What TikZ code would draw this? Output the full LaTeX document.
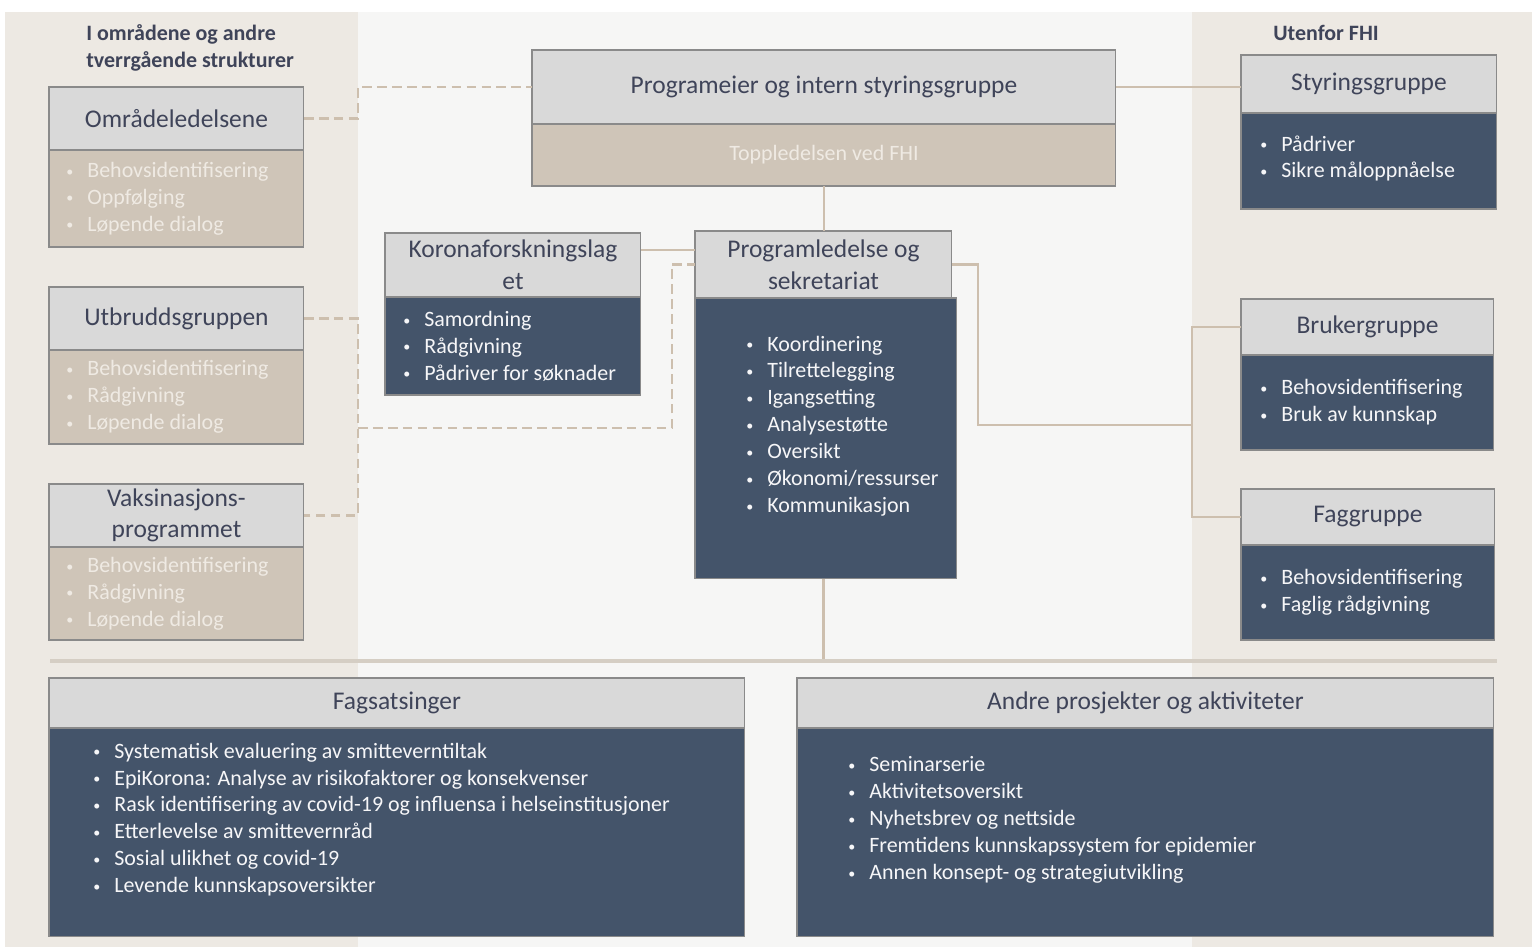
\documentclass[tikz,border=0pt]{standalone}
\usepackage{fontspec}
\setmainfont{Carlito}
\usepackage{xcolor}
\usetikzlibrary{positioning, calc}
\definecolor{navy}{HTML}{44546A}
\definecolor{hdrgray}{HTML}{D9D9D9}
\definecolor{boxtan}{HTML}{CFC5B8}
\definecolor{hdrtext}{HTML}{3F4459}
\definecolor{boxline}{HTML}{8A8A8A}
\definecolor{linkcol}{HTML}{CDBFAE}
\definecolor{bandcol}{HTML}{EDE9E3}
\definecolor{midcol}{HTML}{F6F6F5}
\definecolor{fadetext}{HTML}{EFEAE3}
\definecolor{sepcol}{HTML}{D5CEC4}
\tikzset{
    headbox/.style={
        rectangle,
        draw=boxline,
        line width=0.6pt,
        outer sep=0pt,
        fill=hdrgray,
        text=hdrtext,
        align=center, % for \\ in the titles
        anchor=north west,
        inner sep=2pt,
        font=\fontsize{14.5}{18}\selectfont
    },
    navybody/.style={
        rectangle,
        draw=boxline,
        line width=0.6pt,
        outer sep=0pt,
        fill=navy,
        anchor=north west
    },
    tanbody/.style={
        navybody,
        fill=boxtan
    },
    listtxt/.style={
        inner sep=0pt,
        anchor=west,
        align=left,
        text=white!95!navy,
        font=\fontsize{12.5}{15.3}\selectfont
    },
    fadelist/.style={
        listtxt,
        text=fadetext
    },
    link/.style={
        draw=linkcol,
        line width=1.6pt
    },
    dashlink/.style={
        draw=linkcol,
        line width=1.6pt,
        dash pattern=on 5.5pt off 3pt
    }
}
\newcommand{\punkt}[1]{\makebox[0.42cm][l]{\raisebox{0.12ex}{\fontsize{8}{8}\selectfont\textbullet}}#1}

\begin{document}
\begin{tikzpicture}[
    x=0.02cm, y=-0.02cm,
    grouplbl/.style={font=\bfseries\fontsize{12.5}{15.3}\selectfont, text=hdrtext, align=left, inner sep=0pt, anchor=west},
    sepline/.style={draw=sepcol, line width=2pt}
]
\useasboundingbox (0,0) rectangle (1532,947);
\fill[white] (0,0) rectangle (1532,947);
\fill[midcol] (5,12) rectangle (1532,947);
\fill[bandcol] (5,12) rectangle (358,947);
\fill[bandcol] (1192,12) rectangle (1532,947);

\node[grouplbl] (lbl-omr) at (86,47.5) {I områdene og andre\\tverrgående strukturer};
\node[grouplbl] (lbl-ute) at (1273,33) {Utenfor FHI};

% venstre kolonne
\node[headbox, minimum width=5.1cm, minimum height=1.26cm] (omr) at (49,87) {Områdeledelsene};
\node[tanbody, minimum width=5.1cm, minimum height=1.94cm, below=0pt of omr] (omr-b) {};
\node[fadelist] (omr-l) at ([xshift=0.34cm]omr-b.west) {\punkt{Behovsidentifisering}\\\punkt{Oppfølging}\\\punkt{Løpende dialog}};

\node[headbox, minimum width=5.1cm, minimum height=1.26cm] (utb) at (49,287) {Utbruddsgruppen};
\node[tanbody, minimum width=5.1cm, minimum height=1.88cm, below=0pt of utb] (utb-b) {};
\node[fadelist] (utb-l) at ([xshift=0.34cm]utb-b.west) {\punkt{Behovsidentifisering}\\\punkt{Rådgivning}\\\punkt{Løpende dialog}};

\node[headbox, minimum width=5.1cm, minimum height=1.26cm] (vaks) at (49,484) {Vaksinasjons-\\programmet};
\node[tanbody, minimum width=5.1cm, minimum height=1.86cm, below=0pt of vaks] (vaks-b) {};
\node[fadelist] (vaks-l) at ([xshift=0.34cm]vaks-b.west) {\punkt{Behovsidentifisering}\\\punkt{Rådgivning}\\\punkt{Løpende dialog}};

% midten
\node[headbox, minimum width=11.68cm, minimum height=1.48cm] (peier) at (532,50) {Programeier og intern styringsgruppe};
\node[tanbody, minimum width=11.68cm, minimum height=1.24cm, below=0pt of peier, text=fadetext, font=\fontsize{12.5}{15}\selectfont] (peier-b) {Toppledelsen ved FHI};

\node[headbox, minimum width=5.12cm, minimum height=1.28cm] (kor) at (385,233) {Koronaforskningslag\\et};
\node[navybody, minimum width=5.12cm, minimum height=1.96cm, below=0pt of kor] (kor-b) {};
\node[listtxt] (kor-l) at ([xshift=0.36cm]kor-b.west) {\punkt{Samordning}\\\punkt{Rådgivning}\\\punkt{Pådriver for søknader}};

\node[headbox, minimum width=5.14cm, minimum height=1.34cm] (pled) at (695,231) {Programledelse og\\sekretariat};
\node[navybody, minimum width=5.24cm, minimum height=5.62cm] (pled-b) at (pled.south west) {};
\node[listtxt] (pled-l) at ([xshift=1.02cm, yshift=0.25cm]pled-b.west) {\punkt{Koordinering}\\\punkt{Tilrettelegging}\\\punkt{Igangsetting}\\\punkt{Analysestøtte}\\\punkt{Oversikt}\\\punkt{Økonomi/ressurser}\\\punkt{Kommunikasjon}};

% hoyre kolonne
\node[headbox, minimum width=5.12cm, minimum height=1.16cm] (styr) at (1241,55) {Styringsgruppe};
\node[navybody, minimum width=5.12cm, minimum height=1.92cm, below=0pt of styr] (styr-b) {};
\node[listtxt] (styr-l) at ([xshift=0.38cm, yshift=0.05cm]styr-b.west) {\punkt{Pådriver}\\\punkt{Sikre måloppnåelse}};

\node[headbox, minimum width=5.06cm, minimum height=1.12cm] (bruk) at (1241,299) {Brukergruppe};
\node[navybody, minimum width=5.06cm, minimum height=1.9cm, below=0pt of bruk] (bruk-b) {};
\node[listtxt] (bruk-l) at ([xshift=0.38cm]bruk-b.west) {\punkt{Behovsidentifisering}\\\punkt{Bruk av kunnskap}};

\node[headbox, minimum width=5.08cm, minimum height=1.12cm] (fag) at (1241,489) {Faggruppe};
\node[navybody, minimum width=5.08cm, minimum height=1.9cm, below=0pt of fag] (fag-b) {};
\node[listtxt] (fag-l) at ([xshift=0.38cm]fag-b.west) {\punkt{Behovsidentifisering}\\\punkt{Faglig rådgivning}};

% nederst
\node[headbox, minimum width=13.92cm, minimum height=1.0cm] (fsats) at (49,678) {Fagsatsinger};
\node[navybody, minimum width=13.92cm, minimum height=4.18cm, below=0pt of fsats] (fsats-b) {};
\node[listtxt] (fsats-l) at ([xshift=0.88cm, yshift=0.26cm]fsats-b.west) {\punkt{Systematisk evaluering av smitteverntiltak}\\\punkt{EpiKorona: Analyse av risikofaktorer og konsekvenser}\\\punkt{Rask identifisering av covid-19 og influensa i helseinstitusjoner}\\\punkt{Etterlevelse av smittevernråd}\\\punkt{Sosial ulikhet og covid-19}\\\punkt{Levende kunnskapsoversikter}};

\node[headbox, minimum width=13.94cm, minimum height=1.0cm] (andre) at (797,678) {Andre prosjekter og aktiviteter};
\node[navybody, minimum width=13.94cm, minimum height=4.18cm, below=0pt of andre] (andre-b) {};
\node[listtxt] (andre-l) at ([xshift=1.02cm, yshift=0.25cm]andre-b.west) {\punkt{Seminarserie}\\\punkt{Aktivitetsoversikt}\\\punkt{Nyhetsbrev og nettside}\\\punkt{Fremtidens kunnskapssystem for epidemier}\\\punkt{Annen konsept- og strategiutvikling}};

% forbindelser
\coordinate (lbus) at (358,0);
\coordinate (dashjoin) at (358,428);
\coordinate (mbus) at (672,428);
\coordinate (rjoin) at (1192,425);
\coordinate (sepL) at (50,661);
\coordinate (sepR) at (1497,661);

\draw[dashlink] (omr.east) -| (lbus |- peier.west) -- (peier.west);
\draw[dashlink] (utb.east) -| (lbus |- vaks.east) -- (vaks.east);
\draw[dashlink] (dashjoin) -- (mbus) |- (pled.west);

\draw[link] (peier.east) -- (peier.east -| styr.west);
\draw[link] (peier-b.south) -- (peier-b.south |- pled.north);
\draw[link] ([yshift=0.3cm]kor.east) -- ([yshift=0.3cm]kor.east -| pled.west);
\draw[link] (pled.east) -- ++(26,0) |- (rjoin);
\draw[link] (bruk.west) -| (rjoin) |- (fag.west);
\draw[link] (pled.south |- pled-b.south) -- (pled.south |- sepL);
\draw[sepline] (sepL) -- (sepR);
\end{tikzpicture}
\end{document}
